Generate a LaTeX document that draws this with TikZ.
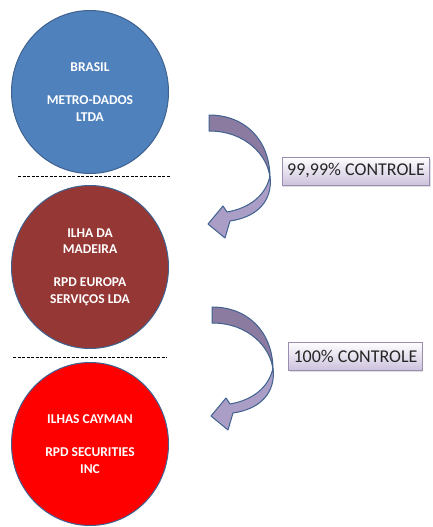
\documentclass[tikz,border=0pt]{standalone}
\usepackage{fontspec}
\setmainfont{Carlito}
\usetikzlibrary{shapes.geometric,shadows}
\definecolor{brasilcolor}{HTML}{4F81BD}
\definecolor{madeiracolor}{HTML}{953735}
\definecolor{caymancolor}{HTML}{FF0000}
\definecolor{edgecolor}{HTML}{3F6290}
\definecolor{backcolor}{HTML}{8C7BA0}
\definecolor{frontcolor}{HTML}{AA9DC6}
\definecolor{sharecolor}{HTML}{CDC2DD}
\definecolor{shareedge}{HTML}{9B8DB0}

\begin{document}
\begin{tikzpicture}[x=1pt, y=-1pt,
    company/.style={draw=edgecolor, line width=1pt, ellipse, minimum width=157pt, minimum height=163pt, inner sep=0pt, text=white, align=center, font=\fontsize{13.5}{16.5}\selectfont\bfseries},
    share/.style={draw=shareedge, line width=0.8pt, rectangle, top color=white, bottom color=sharecolor, minimum height=28pt, inner xsep=5pt, text=black!85, font=\fontsize{18}{20}\selectfont, drop shadow={opacity=0.25, shadow xshift=1pt, shadow yshift=-1.5pt}},
    separator/.style={dash pattern=on 3pt off 1.5pt, line width=0.6pt},
    bentarrow/.style={draw=edgecolor, line width=1pt, line join=round}]
  \useasboundingbox (0,0) rectangle (432,527);

  % companies
  \node[company, fill=brasilcolor] (brasil) at (90,92) {BRASIL\\[16.5pt]METRO-DADOS\\LTDA};
  \node[company, fill=madeiracolor] (madeira) at (90,267) {ILHA DA\\MADEIRA\\[16.5pt]RPD EUROPA\\SERVIÇOS LDA};
  \node[company, fill=caymancolor] (cayman) at (90,444) {ILHAS CAYMAN\\[16.5pt]RPD SECURITIES\\INC};

  % separators
  \draw[separator] (18,176) -- (170,176);
  \draw[separator] (13,357) -- (167,357);

  % curved arrows
  \draw[bentarrow, fill=backcolor] (209,115) .. controls (245,115) and (270,140) .. (270,178) .. controls (268,156) and (246,131) .. (209,131) -- cycle;
  \draw[bentarrow, fill=frontcolor] (270,176) .. controls (273,200) and (258,217) .. (230,221) -- (225,238) -- (208,224) -- (223,206) -- (227,212) .. controls (250,208) and (266,195) .. (270,176) -- cycle;
  \begin{scope}[shift={(3,192)}]
    \draw[bentarrow, fill=backcolor] (209,115) .. controls (245,115) and (270,140) .. (270,178) .. controls (268,156) and (246,131) .. (209,131) -- cycle;
    \draw[bentarrow, fill=frontcolor] (270,176) .. controls (273,200) and (258,217) .. (230,221) -- (225,238) -- (208,224) -- (223,206) -- (227,212) .. controls (250,208) and (266,195) .. (270,176) -- cycle;
  \end{scope}

  % control labels
  \node[share] (first) at (356,171) {99,99\% CONTROLE};
  \node[share] (second) at (355.5,356) {100\% CONTROLE};
\end{tikzpicture}
\end{document}
